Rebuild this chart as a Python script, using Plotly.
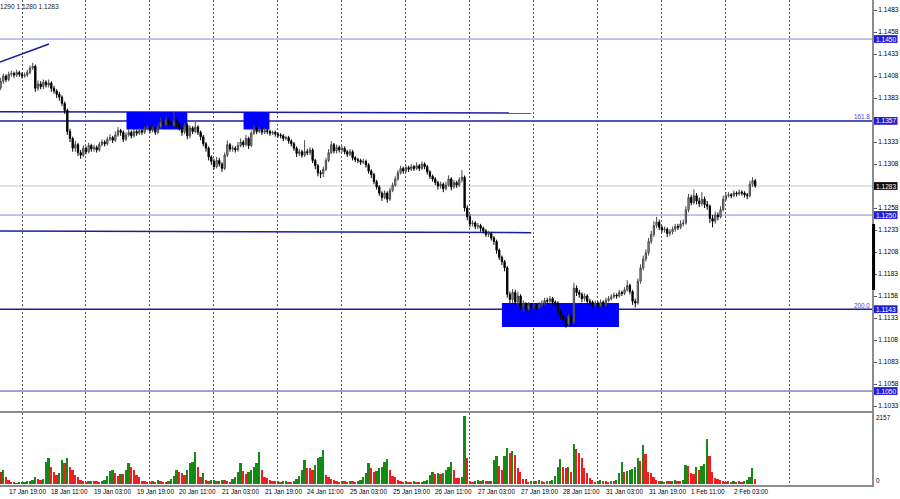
import plotly.graph_objects as go

# ---------------- data (EURUSD H1) ----------------
first_open = 1.1395
close = [
1.1402,1.1408,1.1404,1.1410,1.1411,1.1409,1.1412,1.1410,1.1408,1.1409,
1.1412,1.1417,1.1419,1.1394,1.1399,1.1396,1.1401,1.1398,1.1400,1.1394,
1.1391,1.1387,1.1384,1.1377,1.1369,1.1345,1.1337,1.1326,1.1330,1.1321,
1.1318,1.1326,1.1322,1.1329,1.1325,1.1327,1.1324,1.1330,1.1333,1.1331,
1.1336,1.1338,1.1335,1.1341,1.1346,1.1344,1.1336,1.1341,1.1344,1.1340,
1.1345,1.1343,1.1346,1.1344,1.1348,1.1350,1.1346,1.1348,1.1344,1.1350,
1.1356,1.1353,1.1358,1.1355,1.1352,1.1357,1.1354,1.1349,1.1344,1.1352,
1.1340,1.1349,1.1345,1.1350,1.1344,1.1339,1.1331,1.1326,1.1316,1.1311,
1.1305,1.1312,1.1308,1.1303,1.1318,1.1330,1.1325,1.1326,1.1324,1.1329,
1.1333,1.1330,1.1337,1.1329,1.1343,1.1348,1.1345,1.1347,1.1344,1.1346,
1.1345,1.1343,1.1344,1.1342,1.1341,1.1340,1.1337,1.1338,1.1334,1.1331,
1.1326,1.1320,1.1322,1.1318,1.1322,1.1321,1.1324,1.1312,1.1306,1.1298,
1.1297,1.1302,1.1312,1.1321,1.1330,1.1323,1.1327,1.1324,1.1326,1.1322,
1.1319,1.1322,1.1315,1.1313,1.1312,1.1310,1.1311,1.1307,1.1300,1.1296,
1.1288,1.1282,1.1275,1.1270,1.1275,1.1268,1.1278,1.1284,1.1291,1.1298,
1.1303,1.1300,1.1304,1.1302,1.1305,1.1303,1.1306,1.1303,1.1308,1.1305,
1.1299,1.1294,1.1291,1.1287,1.1283,1.1285,1.1280,1.1284,1.1291,1.1282,
1.1287,1.1284,1.1290,1.1293,1.1258,1.1248,1.1240,1.1241,1.1237,1.1238,
1.1235,1.1232,1.1228,1.1229,1.1224,1.1220,1.1210,1.1202,1.1197,1.1190,
1.1160,1.1154,1.1162,1.1151,1.1158,1.1146,1.1149,1.1143,1.1148,1.1146,
1.1147,1.1145,1.1148,1.1150,1.1153,1.1152,1.1155,1.1151,1.1150,1.1140,
1.1135,1.1132,1.1126,1.1135,1.1128,1.1167,1.1162,1.1160,1.1155,1.1158,
1.1152,1.1151,1.1148,1.1150,1.1147,1.1151,1.1148,1.1153,1.1155,1.1157,
1.1159,1.1158,1.1162,1.1161,1.1165,1.1170,1.1163,1.1152,1.1150,1.1175,
1.1190,1.1200,1.1207,1.1220,1.1228,1.1238,1.1242,1.1236,1.1233,1.1234,
1.1229,1.1231,1.1234,1.1237,1.1236,1.1240,1.1241,1.1256,1.1270,1.1264,
1.1272,1.1266,1.1263,1.1268,1.1262,1.1260,1.1246,1.1243,1.1250,1.1248,
1.1256,1.1268,1.1272,1.1273,1.1272,1.1275,1.1274,1.1276,1.1275,1.1273,
1.1272,1.1285,1.1289,1.1283]
high = [
1.1406,1.1411,1.1410,1.1413,1.1414,1.1413,1.1415,1.1414,1.1412,1.1412,
1.1415,1.1420,1.1423,1.1421,1.1403,1.1402,1.1404,1.1403,1.1404,1.1402,
1.1397,1.1393,1.1390,1.1386,1.1379,1.1371,1.1348,1.1339,1.1334,1.1332,
1.1324,1.1329,1.1328,1.1332,1.1331,1.1330,1.1329,1.1333,1.1336,1.1335,
1.1339,1.1342,1.1340,1.1345,1.1350,1.1348,1.1346,1.1344,1.1347,1.1346,
1.1348,1.1347,1.1349,1.1348,1.1351,1.1353,1.1352,1.1351,1.1350,1.1354,
1.1361,1.1358,1.1362,1.1360,1.1357,1.1367,1.1359,1.1356,1.1351,1.1355,
1.1354,1.1352,1.1351,1.1356,1.1352,1.1346,1.1341,1.1333,1.1328,1.1318,
1.1314,1.1316,1.1315,1.1310,1.1321,1.1335,1.1332,1.1329,1.1328,1.1333,
1.1337,1.1335,1.1341,1.1339,1.1346,1.1352,1.1351,1.1350,1.1349,1.1349,
1.1348,1.1347,1.1346,1.1346,1.1344,1.1343,1.1342,1.1340,1.1340,1.1336,
1.1333,1.1328,1.1325,1.1324,1.1335,1.1325,1.1327,1.1326,1.1314,1.1308,
1.1301,1.1305,1.1315,1.1325,1.1334,1.1332,1.1330,1.1329,1.1329,1.1328,
1.1324,1.1325,1.1324,1.1317,1.1315,1.1314,1.1314,1.1313,1.1309,1.1302,
1.1298,1.1290,1.1284,1.1277,1.1278,1.1277,1.1281,1.1287,1.1294,1.1301,
1.1306,1.1305,1.1307,1.1306,1.1308,1.1307,1.1310,1.1308,1.1311,1.1310,
1.1307,1.1301,1.1296,1.1293,1.1289,1.1288,1.1287,1.1288,1.1295,1.1293,
1.1290,1.1289,1.1293,1.1301,1.1295,1.1261,1.1251,1.1244,1.1243,1.1241,
1.1240,1.1237,1.1234,1.1232,1.1231,1.1226,1.1222,1.1212,1.1204,1.1199,
1.1192,1.1163,1.1166,1.1165,1.1163,1.1160,1.1153,1.1151,1.1151,1.1150,
1.1150,1.1149,1.1151,1.1153,1.1156,1.1156,1.1158,1.1157,1.1153,1.1152,
1.1142,1.1138,1.1134,1.1138,1.1137,1.1173,1.1170,1.1165,1.1162,1.1161,
1.1160,1.1155,1.1153,1.1153,1.1152,1.1154,1.1153,1.1156,1.1158,1.1160,
1.1162,1.1161,1.1165,1.1164,1.1168,1.1176,1.1172,1.1165,1.1155,1.1178,
1.1194,1.1204,1.1211,1.1224,1.1232,1.1243,1.1248,1.1245,1.1238,1.1237,
1.1236,1.1234,1.1237,1.1240,1.1240,1.1244,1.1245,1.1260,1.1274,1.1273,
1.1279,1.1275,1.1270,1.1276,1.1271,1.1266,1.1262,1.1250,1.1254,1.1253,
1.1260,1.1272,1.1276,1.1276,1.1275,1.1278,1.1277,1.1279,1.1278,1.1277,
1.1275,1.1289,1.1293,1.1291]
low = [
1.1392,1.1399,1.1401,1.1402,1.1407,1.1406,1.1407,1.1407,1.1405,1.1406,
1.1407,1.1410,1.1415,1.1390,1.1391,1.1393,1.1393,1.1395,1.1395,1.1390,
1.1388,1.1383,1.1380,1.1374,1.1365,1.1341,1.1333,1.1322,1.1322,1.1317,
1.1314,1.1316,1.1319,1.1320,1.1322,1.1322,1.1321,1.1322,1.1328,1.1328,
1.1329,1.1334,1.1332,1.1333,1.1339,1.1340,1.1333,1.1334,1.1339,1.1337,
1.1338,1.1340,1.1341,1.1341,1.1342,1.1346,1.1343,1.1344,1.1341,1.1342,
1.1348,1.1350,1.1351,1.1352,1.1349,1.1350,1.1350,1.1346,1.1340,1.1342,
1.1336,1.1337,1.1342,1.1343,1.1341,1.1335,1.1328,1.1322,1.1312,1.1307,
1.1302,1.1303,1.1305,1.1299,1.1301,1.1316,1.1322,1.1322,1.1321,1.1322,
1.1327,1.1327,1.1328,1.1325,1.1327,1.1341,1.1342,1.1343,1.1341,1.1342,
1.1342,1.1340,1.1341,1.1339,1.1338,1.1337,1.1334,1.1335,1.1331,1.1328,
1.1323,1.1316,1.1317,1.1315,1.1316,1.1318,1.1318,1.1309,1.1302,1.1294,
1.1292,1.1293,1.1300,1.1310,1.1319,1.1320,1.1320,1.1321,1.1321,1.1319,
1.1316,1.1317,1.1312,1.1310,1.1309,1.1307,1.1308,1.1304,1.1297,1.1292,
1.1285,1.1279,1.1272,1.1266,1.1268,1.1264,1.1266,1.1276,1.1282,1.1289,
1.1296,1.1297,1.1298,1.1299,1.1300,1.1300,1.1301,1.1300,1.1301,1.1302,
1.1296,1.1291,1.1288,1.1284,1.1279,1.1280,1.1276,1.1278,1.1282,1.1278,
1.1280,1.1281,1.1282,1.1287,1.1254,1.1244,1.1236,1.1237,1.1234,1.1234,
1.1231,1.1229,1.1225,1.1225,1.1221,1.1216,1.1206,1.1199,1.1193,1.1186,
1.1156,1.1150,1.1150,1.1147,1.1148,1.1142,1.1140,1.1139,1.1141,1.1143,
1.1143,1.1142,1.1143,1.1145,1.1148,1.1149,1.1150,1.1148,1.1146,1.1136,
1.1131,1.1128,1.1122,1.1123,1.1124,1.1126,1.1158,1.1156,1.1151,1.1152,
1.1149,1.1148,1.1145,1.1146,1.1144,1.1145,1.1145,1.1146,1.1151,1.1153,
1.1155,1.1155,1.1156,1.1158,1.1159,1.1163,1.1160,1.1148,1.1145,1.1148,
1.1172,1.1187,1.1197,1.1204,1.1217,1.1225,1.1235,1.1233,1.1230,1.1230,
1.1225,1.1226,1.1228,1.1231,1.1233,1.1234,1.1237,1.1239,1.1253,1.1261,
1.1262,1.1262,1.1259,1.1260,1.1258,1.1256,1.1241,1.1236,1.1240,1.1244,
1.1246,1.1254,1.1266,1.1270,1.1269,1.1270,1.1271,1.1272,1.1272,1.1270,
1.1268,1.1270,1.1282,1.1281]
volume = [
390,445,233,127,74,42,21,32,53,64,
85,95,127,233,170,127,148,710,816,551,
392,286,360,763,657,816,551,445,286,212,
127,95,74,95,106,85,85,74,85,127,
254,413,445,360,254,318,318,445,657,551,
445,286,233,95,85,74,64,85,74,127,
95,74,64,95,148,254,445,392,339,286,
445,657,710,1028,551,233,339,127,95,116,
127,95,106,127,116,95,74,148,233,392,
657,424,318,392,445,551,657,1028,445,233,
180,127,95,85,95,74,85,95,74,64,
95,148,254,445,763,498,498,445,604,816,
848,1081,286,233,148,127,95,74,95,85,
74,95,85,74,95,127,212,339,657,498,
392,424,498,551,710,784,445,254,212,127,
106,74,95,74,64,85,74,64,74,106,
127,286,392,318,360,318,360,445,551,710,
445,180,180,233,2157,816,95,74,85,127,
106,127,95,106,95,763,890,572,445,890,
1134,996,1049,922,498,392,148,148,74,95,
106,85,127,95,74,85,95,127,254,551,
784,530,498,551,392,1272,1102,975,816,498,
339,180,127,74,95,116,95,85,74,95,
85,127,339,690,392,424,445,466,551,816,
743,1240,943,392,360,212,127,85,106,74,
95,85,106,127,95,85,127,604,583,360,
318,551,445,572,636,1420,890,392,180,148,
127,95,74,85,74,95,74,85,74,106,
127,233,498,148]

time_labels = ["17 Jan 19:00", "18 Jan 11:00", "19 Jan 03:00", "19 Jan 19:00",
               "20 Jan 11:00", "21 Jan 03:00", "21 Jan 19:00", "24 Jan 11:00",
               "25 Jan 03:00", "25 Jan 19:00", "26 Jan 11:00", "27 Jan 03:00",
               "27 Jan 19:00", "28 Jan 11:00", "31 Jan 03:00", "31 Jan 19:00",
               "1 Feb 11:00", "2 Feb 03:00"]
time_label_bars = [3, 19, 35, 51, 67, 83, 99, 115, 131, 147, 163, 179,
                   195, 211, 227, 243, 259, 275]
day_grid_bars = [8, 32, 56, 80, 104, 128, 152, 176, 200, 224, 248, 272, 296]
price_ticks = [1.1033, 1.1058, 1.1083, 1.1108, 1.1133, 1.1158, 1.1183, 1.1208,
               1.1233, 1.1258, 1.1308, 1.1333, 1.1383, 1.1408, 1.1433, 1.1458, 1.1483]

level_light = [1.1450, 1.1250]
level_dark = [1.1357, 1.1143]
level_mid = [1.1050]
bid_price = 1.1283
boxed_levels = [1.1450, 1.1357, 1.1250, 1.1143, 1.1050]
fibo_labels = [("161.8", 1.1357), ("200.0", 1.1143)]
zones = [(47.2, 70.0, 1.13472, 1.13671), (91.1, 100.8, 1.13472, 1.13671),
         (188.0, 231.9, 1.11228, 1.11500)]
trend_segments = [(-0.25, 1.14239, 18.1, 1.14444), (-0.25, 1.13675, 199, 1.13660),
                  (-0.25, 1.12320, 199, 1.12300)]
vol_max_label = 2157
header_text = "1290 1.1280 1.1283"

# ---------------- figure ----------------
n = len(close)
idx = list(range(n))
opens = [first_open] + close[:-1]
vol_colors = ["#d91a1a"] + ["#138a13" if volume[i] > volume[i - 1] else "#ef1f1f"
                            for i in range(1, n)]

XR = [-0.25, 326.8]
Y_MAIN = [1.102732, 1.149436]
FONT = "Liberation Sans, Arial, sans-serif"

fig = go.Figure()
fig.add_trace(go.Candlestick(
    x=idx, open=opens, high=high, low=low, close=close,
    xaxis="x", yaxis="y", whiskerwidth=0,
    increasing=dict(line=dict(color="#4a4a4a", width=1), fillcolor="#a8a8a8"),
    decreasing=dict(line=dict(color="#000000", width=1), fillcolor="#000000"),
    hoverinfo="skip", showlegend=False))
fig.add_trace(go.Bar(
    x=idx, y=volume, xaxis="x2", yaxis="y2", width=0.68,
    marker=dict(color=vol_colors, line=dict(width=0)),
    hoverinfo="skip", showlegend=False))

grid = dict(showgrid=True, gridcolor="#5a5a5a", griddash="2px,2px", gridwidth=1,
            tickvals=day_grid_bars, showticklabels=False, ticks="", zeroline=False,
            range=XR, fixedrange=True)

shapes = []
for p in level_light:
    shapes.append(dict(type="line", xref="paper", yref="y", x0=0, x1=1, y0=p, y1=p,
                       line=dict(color="#8585ee", width=1), layer="between"))
for p in level_dark:
    shapes.append(dict(type="line", xref="paper", yref="y", x0=0, x1=1, y0=p, y1=p,
                       line=dict(color="#1c1c9c", width=1.5), layer="between"))
for p in level_mid:
    shapes.append(dict(type="line", xref="paper", yref="y", x0=0, x1=1, y0=p, y1=p,
                       line=dict(color="#4343c4", width=1), layer="between"))
shapes.append(dict(type="line", xref="paper", yref="y", x0=0, x1=1, y0=bid_price,
                   y1=bid_price, line=dict(color="#c8c8c8", width=1), layer="between"))
for (xa, ya, xb, yb) in trend_segments:
    shapes.append(dict(type="line", xref="x", yref="y", x0=xa, x1=xb, y0=ya, y1=yb,
                       line=dict(color="#1c1c9c", width=1.5), layer="between"))
for (xa, xb, ya, yb) in zones:
    shapes.append(dict(type="rect", xref="x", yref="y", x0=xa, x1=xb, y0=ya, y1=yb,
                       fillcolor="#0000ff", line=dict(width=0), layer="between"))
shapes.append(dict(type="line", xref="paper", yref="y", x0=1.0018, x1=1.0018,
                   y0=1.11648, y1=1.12398, line=dict(color="#000000", width=3),
                   layer="above"))

annotations = []
bx0, bx1 = 874 / 872, 897.5 / 872
half = 3.9 / 8800
for p in boxed_levels:
    shapes.append(dict(type="rect", xref="paper", yref="y", x0=bx0, x1=bx1,
                       y0=p - half, y1=p + half, fillcolor="#1e1ed2",
                       line=dict(width=0), layer="above"))
    annotations.append(dict(xref="paper", yref="y", x=bx0, y=p, xanchor="left",
                            yanchor="middle", text=f"{p:.4f}",
                            showarrow=False, font=dict(family=FONT, size=6.6, color="#ffffff")))
shapes.append(dict(type="rect", xref="paper", yref="y", x0=bx0, x1=bx1,
                   y0=bid_price - half, y1=bid_price + half, fillcolor="#0c0c0c",
                   line=dict(width=0), layer="above"))
annotations.append(dict(xref="paper", yref="y", x=bx0, y=bid_price, xanchor="left",
                        yanchor="middle", text=f"{bid_price:.4f}", showarrow=False,
                        font=dict(family=FONT, size=6.6, color="#ffffff")))
for txt, p in fibo_labels:
    annotations.append(dict(xref="paper", yref="y", x=1, y=p, xanchor="right",
                            yanchor="middle", yshift=4, text=txt, showarrow=False,
                            font=dict(family=FONT, size=6.3, color="#4646ee")))
for b, t in zip(time_label_bars, time_labels):
    annotations.append(dict(xref="x2", yref="paper", x=b, y=(485 - 491) / 485,
                            xanchor="left", yanchor="middle", xshift=-2, text=t,
                            showarrow=False, font=dict(family=FONT, size=6.4, color="#000000")))
annotations.append(dict(xref="paper", yref="paper", x=1, xshift=2, y=(485 - 417) / 485,
                        xanchor="left", yanchor="middle", text=str(vol_max_label),
                        showarrow=False, font=dict(family=FONT, size=6.4, color="#000000")))
annotations.append(dict(xref="paper", yref="paper", x=1, xshift=2, y=(485 - 480) / 485,
                        xanchor="left", yanchor="middle", text="0",
                        showarrow=False, font=dict(family=FONT, size=6.4, color="#000000")))
annotations.append(dict(xref="paper", yref="paper", x=0, xshift=-2, y=(485 - 6.5) / 485,
                        xanchor="left", yanchor="middle", text=header_text,
                        showarrow=False, font=dict(family=FONT, size=6.6, color="#222222")))

fig.update_layout(
    width=900, height=499,
    margin=dict(l=0, r=28, t=0, b=14, autoexpand=False),
    paper_bgcolor="#ffffff", plot_bgcolor="#ffffff",
    showlegend=False,
    xaxis=dict(domain=[0, 1], anchor="y", rangeslider=dict(visible=False),
               showline=True, linecolor="#8c8c8c", linewidth=2, **grid),
    xaxis2=dict(domain=[0, 1], anchor="y2", showline=True, linecolor="#8c8c8c",
                linewidth=1.5, **grid),
    yaxis=dict(domain=[(485 - 411) / 485, 1], range=Y_MAIN, side="right",
               tickvals=price_ticks, tickformat=".4f", ticks="outside", ticklen=3,
               tickcolor="#555555", showline=True, linecolor="#8c8c8c", linewidth=2,
               showgrid=False, zeroline=False, fixedrange=True, automargin=False,
               tickfont=dict(family=FONT, size=6.6, color="#000000")),
    yaxis2=dict(domain=[0, (485 - 413) / 485], range=[-32, 2252], side="right",
                showline=True, linecolor="#8c8c8c", linewidth=2, showgrid=False,
                zeroline=False, showticklabels=False, ticks="", fixedrange=True),
    bargap=0, shapes=shapes, annotations=annotations,
)

fig.write_html("out.html", config={"displayModeBar": False},
               post_script="document.body.style.margin='0';document.body.style.overflow='hidden';")
